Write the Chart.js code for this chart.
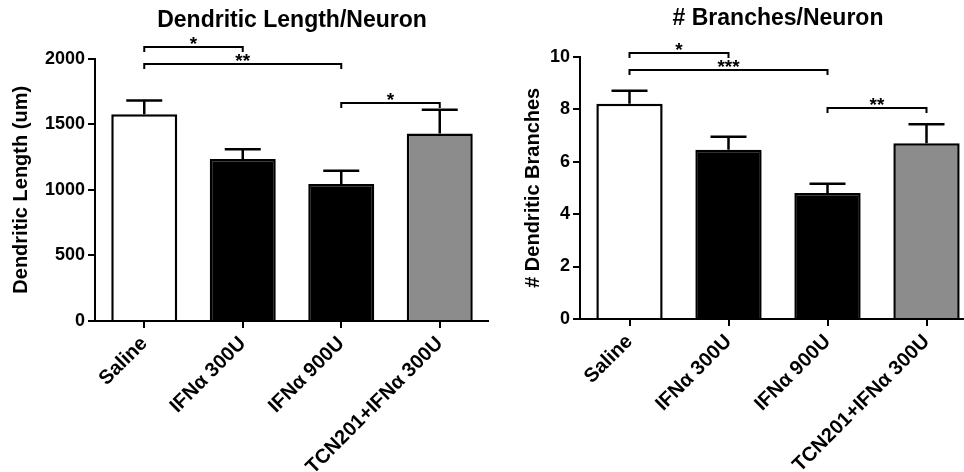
<!DOCTYPE html>
<html>
<head>
<meta charset="utf-8">
<script src="https://cdn.jsdelivr.net/npm/chart.js@4.4.1/dist/chart.umd.min.js"></script>
<style>
  html, body { margin: 0; padding: 0; background: #fff; width: 964px; height: 472px; overflow: hidden; position: relative; }
  canvas { position: absolute; top: 0; }
  #lenChart { left: 0; }
  #brChart { left: 482px; }
</style>
</head>
<body>
<canvas id="lenChart" width="489" height="472"></canvas>
<canvas id="brChart" width="494" height="472"></canvas>
<script>
// groups on the x axis
const groups = ['Saline', 'IFNα 300U', 'IFNα 900U', 'TCN201+IFNα 300U'];
const barColors = ['#ffffff', '#000000', '#000000', '#8c8c8c'];

// dendritic length per neuron (um), mean and SEM
const lengthMean = [1575, 1235, 1045, 1430];
const lengthSem = [105, 75, 100, 180];
const lengthTicks = [0, 500, 1000, 1500, 2000];
// significance brackets: [from group, to group, height, stars]
const lengthSig = [[0, 1, 2085, '*'], [0, 2, 1960, '**'], [2, 3, 1665, '*']];

// branches per neuron, mean and SEM
const branchMean = [8.2, 6.45, 4.8, 6.7];
const branchSem = [0.5, 0.5, 0.35, 0.72];
const branchTicks = [0, 2, 4, 6, 8, 10];
const branchSig = [[0, 1, 10.15, '*'], [0, 2, 9.5, '***'], [2, 3, 8.05, '**']];

const FONT = '"Liberation Sans", Arial, Helvetica, sans-serif';
Chart.defaults.font.family = FONT;
Chart.defaults.color = '#000';

// error bars (upper only) + significance brackets
const extras = {
  id: 'extras',
  afterDatasetsDraw(chart, args, opts) {
    const ctx = chart.ctx;
    const y = chart.scales.y;
    const x = chart.scales.x;
    ctx.save();
    ctx.strokeStyle = '#000';
    ctx.lineWidth = 2.5;
    opts.mean.forEach((m, i) => {
      const cx = x.getPixelForValue(i);
      const y0 = y.getPixelForValue(m);
      const y1 = y.getPixelForValue(m + opts.sem[i]);
      ctx.beginPath();
      ctx.moveTo(cx, y0);
      ctx.lineTo(cx, y1);
      ctx.moveTo(cx - 18, y1);
      ctx.lineTo(cx + 18, y1);
      ctx.stroke();
    });
    ctx.lineWidth = 2;
    ctx.fillStyle = '#000';
    ctx.font = 'bold 19px ' + FONT;
    ctx.textAlign = 'center';
    ctx.textBaseline = 'alphabetic';
    opts.sig.forEach(s => {
      const xa = x.getPixelForValue(s[0]);
      const xb = x.getPixelForValue(s[1]);
      const yy = Math.round(y.getPixelForValue(s[2]));
      ctx.beginPath();
      ctx.moveTo(xa, yy + 5);
      ctx.lineTo(xa, yy);
      ctx.lineTo(xb, yy);
      ctx.lineTo(xb, yy + 5);
      ctx.stroke();
      ctx.fillText(s[3], (xa + xb) / 2, yy + 3);
    });
    ctx.restore();
  }
};

function makeChart(id, title, titlePad, yTitle, yTitlePad, yAxisW, xAxisH, ticks, mean, sem, sig) {
  return new Chart(document.getElementById(id), {
    type: 'bar',
    data: {
      labels: groups,
      datasets: [{
        data: mean,
        backgroundColor: barColors,
        borderColor: '#000',
        borderWidth: 2.5,
        borderSkipped: 'start',
        categoryPercentage: 1,
        barPercentage: 0.67
      }]
    },
    options: {
      responsive: false,
      animation: false,
      layout: { padding: 0 },
      plugins: {
        legend: { display: false },
        tooltip: { enabled: false },
        title: {
          display: true,
          text: title,
          fullSize: false,
          color: '#000',
          font: { size: 23, weight: 'bold' },
          padding: titlePad
        },
        extras: { mean: mean, sem: sem, sig: sig }
      },
      scales: {
        x: {
          grid: { display: true, offset: false, drawOnChartArea: false, color: '#000', lineWidth: 2, tickLength: 7 },
          border: { display: true, color: '#000', width: 2 },
          ticks: { autoSkip: false, minRotation: 45, maxRotation: 45, padding: 4, color: '#000', font: { size: 20, weight: 'bold' } },
          afterFit: a => { a.height = xAxisH; }
        },
        y: {
          min: ticks[0],
          max: ticks[ticks.length - 1],
          afterBuildTicks: a => { a.ticks = ticks.map(v => ({ value: v })); },
          grid: { drawOnChartArea: false, color: '#000', lineWidth: 2, tickLength: 7 },
          border: { display: true, color: '#000', width: 2 },
          ticks: { padding: 3, color: '#000', font: { size: 18, weight: 'bold' }, callback: v => String(v) },
          title: { display: true, text: yTitle, color: '#000', font: { size: 20, weight: 'bold' }, padding: { top: yTitlePad, bottom: 0 } },
          afterFit: a => { a.width = yAxisW; }
        }
      }
    },
    plugins: [extras]
  });
}

makeChart('lenChart', 'Dendritic Length/Neuron', { top: 7, bottom: 24 },
  'Dendritic Length (um)', 9, 95, 151, lengthTicks, lengthMean, lengthSem, lengthSig);
makeChart('brChart', '# Branches/Neuron', { top: 5, bottom: 24 },
  '# Dendritic Branches', 39, 98, 153, branchTicks, branchMean, branchSem, branchSig);
</script>
</body>
</html>
